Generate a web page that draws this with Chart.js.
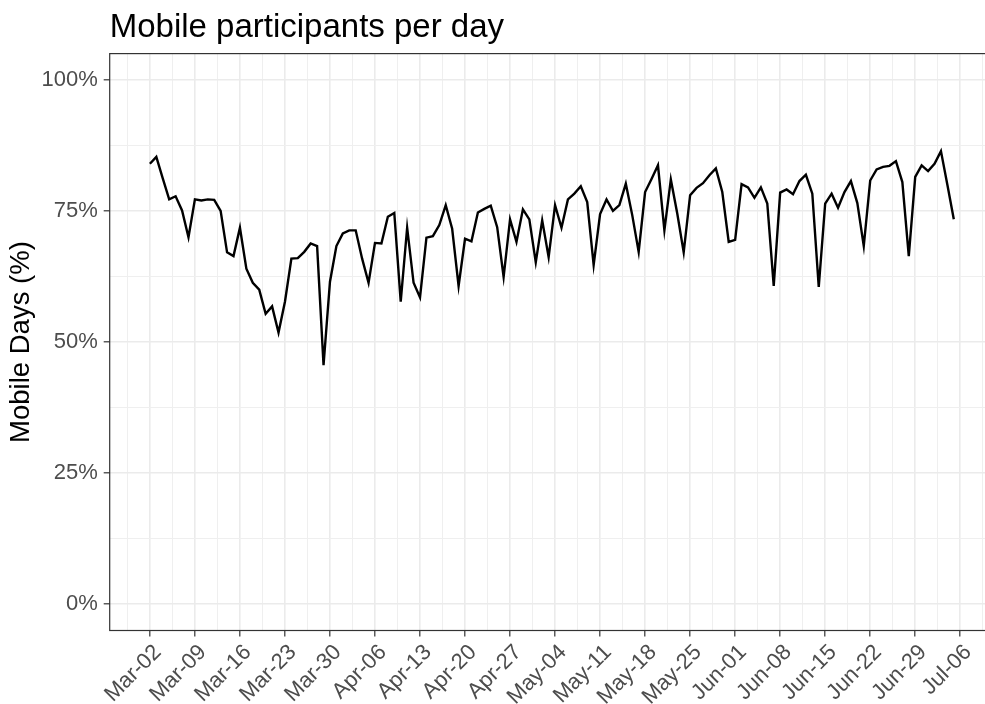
<!DOCTYPE html>
<html>
<head>
<meta charset="utf-8">
<script src="https://cdn.jsdelivr.net/npm/chart.js@4/dist/chart.umd.min.js"></script>
<style>
  html, body { margin: 0; padding: 0; background: #fff; overflow: hidden; width: 985px; height: 704px; }
  #wrap { width: 985px; height: 704px; overflow: hidden; position: relative; }
  canvas { display: block; }
</style>
</head>
<body>
<div id="wrap"><canvas id="lineChart" width="1000" height="704"></canvas></div>
<script>
// share of participants with a mobile day, one value per day from Mar-02 to Jul-05
const mobileShare = [
  84.0, 85.3, 81.2, 77.2, 77.8, 75.1, 70.0,
  77.2, 77.0, 77.2, 77.1, 75.0, 67.1, 66.4,
  71.8, 64.0, 61.3, 60.0, 55.4, 56.8, 51.8,
  57.7, 65.9, 66.0, 67.2, 68.8, 68.3, 45.6,
  61.5, 68.3, 70.7, 71.3, 71.3, 65.9, 61.3,
  68.9, 68.8, 73.9, 74.6, 57.7, 71.8, 61.3,
  58.5, 69.9, 70.2, 72.3, 76.1, 71.6, 60.7,
  69.7, 69.2, 74.7, 75.4, 76.0, 71.9, 62.4,
  73.4, 69.1, 75.3, 73.4, 65.2, 73.2, 66.2,
  76.1, 71.8, 77.2, 78.3, 79.7, 76.7, 64.7,
  74.4, 77.2, 75.0, 76.1, 80.2, 74.2, 67.2,
  78.6, 81.1, 83.7, 71.3, 81.0, 74.5, 67.1,
  78.0, 79.4, 80.3, 81.8, 83.1, 78.6, 69.1,
  69.5, 80.1, 79.5, 77.5, 79.5, 76.4, 60.7,
  78.5, 79.1, 78.2, 80.7, 81.9, 78.3, 60.5,
  76.4, 78.3, 75.6, 78.6, 80.7, 76.5, 68.3,
  80.8, 82.9, 83.4, 83.6, 84.5, 80.5, 66.4,
  81.5, 83.7, 82.6, 84.0, 86.4, 80.0, 73.4
];

// weekly x labels (every 7 days from the first day)
const weekLabels = [
  'Mar-02', 'Mar-09', 'Mar-16', 'Mar-23', 'Mar-30', 'Apr-06', 'Apr-13',
  'Apr-20', 'Apr-27', 'May-04', 'May-11', 'May-18', 'May-25', 'Jun-01',
  'Jun-08', 'Jun-15', 'Jun-22', 'Jun-29', 'Jul-06'
];
const yTickValues = [0, 25, 50, 75, 100];
const yTickLabels = ['0%', '25%', '50%', '75%', '100%'];

const FONT = "'Liberation Sans', Arial, Helvetica, sans-serif";

// ggplot style: expand 5% on each side
const lastDay = mobileShare.length - 1;
const xPad = lastDay * 0.05;

// theme_bw panel border
const panelBorder = {
  id: 'panelBorder',
  afterDraw(chart) {
    const { ctx, chartArea: a } = chart;
    ctx.save();
    ctx.strokeStyle = '#333333';
    ctx.lineWidth = 1.2;
    ctx.strokeRect(a.left, a.top, a.right - a.left, a.bottom - a.top);
    ctx.restore();
  }
};

const isMajorX = v => v % 7 === 0;
const isMajorY = v => v % 25 === 0;

new Chart(document.getElementById('lineChart'), {
  type: 'line',
  data: {
    datasets: [{
      data: mobileShare.map((v, i) => ({ x: i, y: v })),
      borderColor: '#000000',
      borderWidth: 2.4,
      pointRadius: 0,
      tension: 0,
      fill: false
    }]
  },
  plugins: [panelBorder],
  options: {
    responsive: false,
    animation: false,
    layout: { padding: { left: 0, right: 6, top: 0, bottom: 0 } },
    scales: {
      x: {
        type: 'linear',
        min: -xPad,
        max: lastDay + xPad,
        afterBuildTicks: (scale) => {
          const ticks = [{ value: -3.5 }];
          weekLabels.forEach((_, i) => {
            ticks.push({ value: i * 7 });
            ticks.push({ value: i * 7 + 3.5 });
          });
          scale.ticks = ticks.filter(t => t.value <= lastDay + xPad);
        },
        afterFit: (scale) => {
          scale.height = 73.5;
          scale.paddingLeft = 0;
          scale.paddingRight = 0;
        },
        border: { display: false },
        grid: {
          color: ctx => isMajorX(ctx.tick.value) ? '#EBEBEB' : '#EFEFEF',
          lineWidth: ctx => isMajorX(ctx.tick.value) ? 1.6 : 1,
          tickColor: ctx => isMajorX(ctx.tick.value) ? '#333333' : 'rgba(0,0,0,0)',
          tickWidth: 1.2,
          tickLength: 6
        },
        ticks: {
          autoSkip: false,
          minRotation: 45,
          maxRotation: 45,
          padding: 3,
          labelOffset: 8,
          color: '#4D4D4D',
          font: { family: FONT, size: 22 },
          callback: v => isMajorX(v) ? weekLabels[v / 7] : ''
        }
      },
      y: {
        type: 'linear',
        min: -5,
        max: 105,
        afterBuildTicks: (scale) => {
          const ticks = [];
          yTickValues.forEach((v, i) => {
            ticks.push({ value: v });
            if (i < yTickValues.length - 1) ticks.push({ value: v + 12.5 });
          });
          scale.ticks = ticks;
        },
        afterFit: (scale) => {
          scale.width = 109.7;
          scale.paddingTop = 0;
          scale.paddingBottom = 0;
        },
        border: { display: false },
        grid: {
          color: ctx => isMajorY(ctx.tick.value) ? '#EBEBEB' : '#EFEFEF',
          lineWidth: ctx => isMajorY(ctx.tick.value) ? 1.6 : 1,
          tickColor: ctx => isMajorY(ctx.tick.value) ? '#333333' : 'rgba(0,0,0,0)',
          tickWidth: 1.2,
          tickLength: 6
        },
        ticks: {
          autoSkip: false,
          padding: 6,
          color: '#4D4D4D',
          font: { family: FONT, size: 22 },
          callback: v => isMajorY(v) ? yTickLabels[yTickValues.indexOf(v)] : ''
        },
        title: {
          display: true,
          text: 'Mobile Days (%)',
          color: '#000000',
          font: { family: FONT, size: 27.5 },
          padding: { top: 5, bottom: 0 }
        }
      }
    },
    plugins: {
      legend: { display: false },
      tooltip: { enabled: false },
      title: {
        display: true,
        text: 'Mobile participants per day',
        align: 'start',
        fullSize: false,
        color: '#000000',
        font: { family: FONT, size: 33, weight: 'normal' },
        padding: { top: 8, bottom: 6 }
      }
    }
  }
});
</script>
</body>
</html>
